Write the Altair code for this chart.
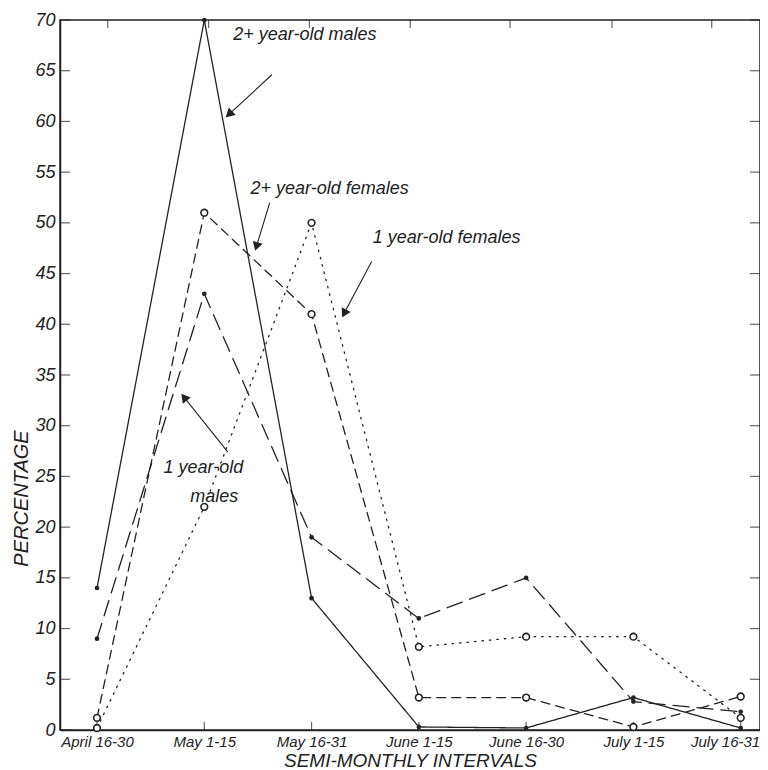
import altair as alt
import pandas as pd
import numpy as np

categories = ["April 16-30", "May 1-15", "May 16-31", "June 1-15",
              "June 16-30", "July 1-15", "July 16-31"]

males_2plus = [14, 70, 13, 0.3, 0.2, 3.2, 0.2]
males_1yr = [9, 43, 19, 11, 15, 2.8, 1.8]
females_2plus = [1.2, 51, 41, 3.2, 3.2, 0.3, 3.3]
females_1yr = [0.2, 22, 50, 8.2, 9.2, 9.2, 1.2]

series_names = ["2+ year-old males", "1 year-old males",
                "2+ year-old females", "1 year-old females"]
series_values = [males_2plus, males_1yr, females_2plus, females_1yr]
series_dash = [[1, 0], [16, 8], [9, 6], [1.5, 6]]
series_filled = [True, True, False, False]

# annotations (data coordinates: x = interval index, y = percentage)
ann_lines = ["2+ year-old males", "2+ year-old females", "1 year-old females",
             "1 year-old", "males"]
ann_x = [1.27, 1.43, 2.57, 0.62, 0.87]
ann_y = [68.5, 53.3, 48.5, 25.8, 23.0]

arrow_x = [1.63, 1.61, 2.56, 1.22]
arrow_y = [64.6, 52.0, 46.2, 27.4]
arrow_hx = [1.24, 1.49, 2.31, 0.82]
arrow_hy = [60.8, 47.8, 41.2, 32.7]

y_ticks = list(range(0, 71, 5))
top_ticks = [0.1, 1.04, 1.98, 2.92, 3.85, 4.8, 5.73]

W, H = 700, 710
XMIN, XMAX = -0.345, 6.18
INK = "#222222"
FONT = "Liberation Sans"

xs = alt.Scale(domain=[XMIN, XMAX], nice=False, zero=False)
ys = alt.Scale(domain=[0, 70], nice=False)

rows = []
for name, vals in zip(series_names, series_values):
    for i, v in enumerate(vals):
        rows.append({"series": name, "idx": i, "cat": categories[i], "value": v})
df = pd.DataFrame(rows)

label_expr = "[" + ",".join("'%s'" % c for c in categories) + "][datum.value]"
last = len(categories) - 1

layers = []
for name, dash, filled in zip(series_names, series_dash, series_filled):
    sub = df[df.series == name]
    line = alt.Chart(sub).mark_line(color=INK, strokeWidth=1.3, strokeDash=dash,
                                     strokeCap="round").encode(
        x=alt.X("idx:Q", scale=xs), y=alt.Y("value:Q", scale=ys))
    layers.append(line)
    if filled:
        pts = alt.Chart(sub).mark_point(shape="circle", filled=True, color=INK,
                                         size=22, opacity=1).encode(
            x=alt.X("idx:Q", scale=xs), y=alt.Y("value:Q", scale=ys))
    else:
        pts = alt.Chart(sub).mark_point(shape="circle", filled=False, stroke=INK,
                                         fill="white", fillOpacity=1, strokeWidth=1.6,
                                         size=45, opacity=1).encode(
            x=alt.X("idx:Q", scale=xs), y=alt.Y("value:Q", scale=ys))
    layers.append(pts)

# base axes layer
axis_df = pd.DataFrame({"idx": list(range(len(categories))), "value": [0] * len(categories)})
base = alt.Chart(axis_df).mark_point(opacity=0).encode(
    x=alt.X("idx:Q", scale=xs,
            axis=alt.Axis(values=list(range(len(categories))), labelExpr=label_expr,
                          title="SEMI-MONTHLY INTERVALS", grid=False,
                          ticks=False, labelFontSize=15, labelFont=FONT,
                          labelFontStyle="italic", labelColor=INK, labelPadding=4,
                          labelAlign={"condition": {"test": "datum.value == %d" % last,
                                                    "value": "right"},
                                      "value": "center"},
                          labelOffset={"condition": {"test": "datum.value == %d" % last,
                                                     "value": 19},
                                       "value": 0},
                          titleFont=FONT, titleFontSize=19, titleFontWeight="normal",
                          titleFontStyle="italic", titleColor=INK, titlePadding=2,
                          domainColor=INK, domainWidth=1.5)),
    y=alt.Y("value:Q", scale=ys,
            axis=alt.Axis(values=y_ticks, title="PERCENTAGE", grid=False, ticks=False,
                          labelFontSize=18, labelFont=FONT, labelFontStyle="italic",
                          labelColor=INK, labelPadding=5,
                          titleFont=FONT, titleFontSize=20, titleFontWeight="normal",
                          titleFontStyle="italic", titleColor=INK, titlePadding=3,
                          titleY=478,
                          domainColor=INK, domainWidth=1.5)),
)

# inward ticks
yt = pd.DataFrame({"v": y_ticks})
left_ticks = alt.Chart(yt).mark_tick(orient="horizontal", color=INK, size=10,
                                     thickness=1.2).encode(
    y=alt.Y("v:Q", scale=ys), x=alt.value(5))
right_ticks = alt.Chart(yt).mark_tick(orient="horizontal", color=INK, size=10,
                                      thickness=1.2).encode(
    y=alt.Y("v:Q", scale=ys), x=alt.value(W - 5))
tt = pd.DataFrame({"v": top_ticks})
top_tk = alt.Chart(tt).mark_tick(orient="vertical", color=INK, size=8,
                                 thickness=1.2).encode(
    x=alt.X("v:Q", scale=xs), y=alt.value(4))
bt = pd.DataFrame({"v": list(range(len(categories)))})
bot_tk = alt.Chart(bt).mark_tick(orient="vertical", color=INK, size=8,
                                 thickness=1.2).encode(
    x=alt.X("v:Q", scale=xs), y=alt.value(H - 4))

# annotations
ann_df = pd.DataFrame({"t": ann_lines, "x": ann_x, "y": ann_y})
ann = alt.Chart(ann_df).mark_text(align="left", baseline="middle", font=FONT,
                                  fontStyle="italic", fontSize=18, color=INK).encode(
    x=alt.X("x:Q", scale=xs), y=alt.Y("y:Q", scale=ys), text="t:N")

arr_df = pd.DataFrame({"ax": arrow_x, "ay": arrow_y, "hx": arrow_hx, "hy": arrow_hy})
kx = W / (XMAX - XMIN)
ky = H / 70.0
dxp = (np.array(arrow_hx) - np.array(arrow_x)) * kx
dyp = -(np.array(arrow_hy) - np.array(arrow_y)) * ky
arr_df["ang"] = (np.degrees(np.arctan2(dxp, -dyp)) + 360) % 360
arr_lines = alt.Chart(arr_df).mark_rule(color=INK, strokeWidth=1.1).encode(
    x=alt.X("ax:Q", scale=xs), y=alt.Y("ay:Q", scale=ys),
    x2="hx:Q", y2="hy:Q")
arr_heads = alt.Chart(arr_df).mark_point(shape="triangle", filled=True, fill=INK,
                                         stroke=INK, size=45, opacity=1).encode(
    x=alt.X("hx:Q", scale=xs), y=alt.Y("hy:Q", scale=ys),
    angle=alt.Angle("ang:Q", scale=None))

chart = alt.layer(base, left_ticks, right_ticks, top_tk, bot_tk, *layers,
                  arr_lines, arr_heads, ann).properties(
    width=W, height=H,
    autosize=alt.AutoSizeParams(type="none"),
    padding={"left": 52, "top": 12, "right": 0, "bottom": 40},
    background="white",
).configure_view(stroke=INK, strokeWidth=1.5)

chart.save("out.html", embed_options={"renderer": "svg", "actions": False})
